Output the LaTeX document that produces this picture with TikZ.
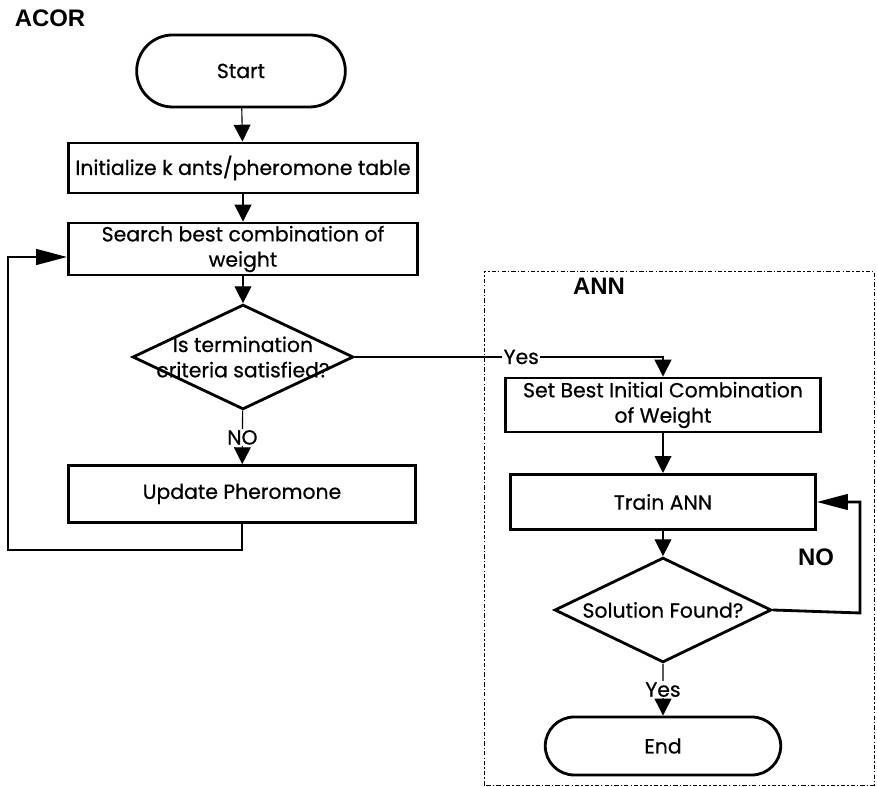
\documentclass[tikz,border=0pt]{standalone}
\usepackage{fontspec}
\setmainfont{Poppins}[FakeBold=0.6]
\newfontfamily\arialfont{Liberation Sans}
\usetikzlibrary{arrows.meta,shapes.geometric,shapes.misc}
\tikzset{
  acbox/.style={draw, line width=2pt, align=center, inner sep=2pt},
  acterm/.style={draw, line width=2pt, rounded rectangle, align=center},
  acdec/.style={draw, line width=2pt, diamond, aspect=2.1, align=center, inner sep=-6pt},
  acarr/.style={-{Triangle[length=12pt,width=12pt]}, line width=0.8pt},
  acloop/.style={-{Triangle[length=22pt,width=11pt]}, line width=2pt},
  aclab/.style={fill=white, inner sep=1pt},
  acgroup/.style={font=\arialfont\bfseries\fontsize{17}{19}\selectfont},
  acframe/.style={line width=0.6pt, dash pattern=on 3pt off 1.5pt on 1pt off 1.5pt}
}

\begin{document}
\begin{tikzpicture}[x=0.025cm, y=0.025cm, font=\fontsize{14.5}{18}\selectfont]
  \useasboundingbox (0,0) rectangle (877,787);
  % ACOR part
  \node[acgroup] (acor) at (50,769) {ACOR};
  \node[acterm, minimum width=5.45cm, minimum height=1.8cm] (start) at (241,716) {Start};
  \node[acbox, minimum width=8.72cm, minimum height=1.25cm] (init) at (243,619) {Initialize k ants/pheromone table};
  \node[acbox, minimum width=8.72cm, minimum height=1.2cm] (search) at (243,538) {Search best combination of\\weight};
  \node[acdec, minimum width=5.52cm, minimum height=2.62cm] (dec1) at (243,430) {Is termination\\criteria satisfied?};
  \node[acbox, minimum width=8.68cm, minimum height=1.42cm] (update) at (242,293) {Update Pheromone};
  \coordinate (acorturn) at (8,237);

  \draw[acarr] (start) -- (init);
  \draw[acarr] (init) -- (search);
  \draw[acarr] (search) -- (dec1);
  \draw[acarr] (dec1) -- (update) node[aclab, midway] {NO};
  \draw[acloop] (update.south) |- (acorturn) |- ([yshift=-0.2cm]search.west);

  % ANN part
  \draw[acframe] (484,2) rectangle (874,516);
  \node[acgroup] (ann) at (599,501) {ANN};
  \node[acbox, minimum width=7.88cm, minimum height=1.35cm] (setw) at (663,382) {Set Best Initial Combination\\of Weight};
  \node[acbox, minimum width=7.62cm, minimum height=1.38cm] (train) at (663,285) {Train ANN};
  \node[acdec, minimum width=5.42cm, minimum height=2.62cm] (dec2) at (663,177) {Solution Found?};
  \node[acterm, minimum width=6.12cm, minimum height=1.45cm] (finish) at (663,41) {End};
  \node[acgroup] (nolab) at (816,230) {NO};
  \coordinate (annturn) at (860,174);

  \draw[acarr] (dec1.east) -| (setw.north) node[aclab, pos=0.27] {Yes};
  \draw[acarr] (setw) -- (train);
  \draw[acarr] (train) -- (dec2);
  \draw[acarr] (dec2) -- (finish) node[aclab, midway] {Yes};
  \draw[acloop] (dec2.east) -- (annturn) |- (train.east);
\end{tikzpicture}
\end{document}
